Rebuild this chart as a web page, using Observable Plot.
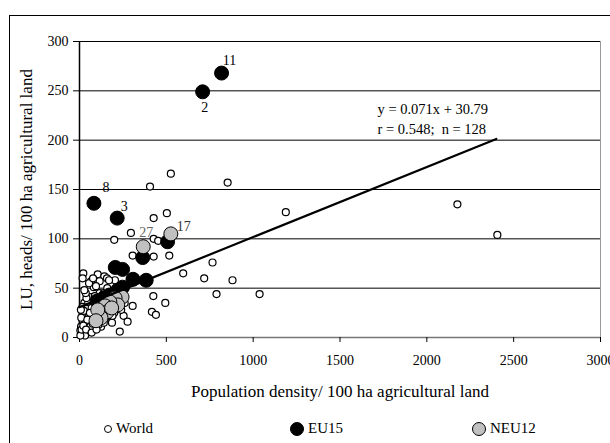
<!DOCTYPE html>
<html><head><meta charset="utf-8">
<script src="https://cdn.jsdelivr.net/npm/d3@7"></script>
<script src="https://cdn.jsdelivr.net/npm/@observablehq/plot@0.6"></script>
<style>
body{margin:0;background:#fff;width:610px;height:443px;overflow:hidden;position:relative;font-family:"Liberation Serif","Times New Roman",serif;}
#chart{position:absolute;left:0;top:0;}
#frame{position:absolute;left:9px;top:15px;width:700px;height:500px;border:1.5px solid #000;pointer-events:none;}
#legend{position:absolute;top:420px;left:0;width:610px;height:20px;font-size:15px;}
.li{position:absolute;top:0;display:flex;align-items:center;gap:4px;}
.sw{display:inline-block;border:1.2px solid #000;border-radius:50%;box-sizing:border-box;}
</style></head>
<body>
<div id="chart"></div>
<div id="legend"></div>
<div id="frame"></div>
<script>
// World countries (population density, LU per 100 ha)
const worldX = [406,526,853,2176,2406,1188,427,503,296,200,427,453,306,427,517,597,718,766,881,789,1037,425,494,306,417,440,254,277,232,187,
  22,18,66,105,143,158,204,116,82,95,124,66,116,181,28,18,43,18,56,18,32,9,5,16,32,5,62,85,76,124,50,95,70,40,10,25,60,100,120,140,160,180,200,150,12,45,36,88,130,110,55,78,170,230,210,8,28,140,165,190,260,240,22,38,70,98];
const worldY = [153,166,157,135,104,127,121,126,106,99,100,98,83,82,83,65,60,76,58,44,44,42,35,32,26,23,22,16,6,15,
  65,60,57,64,62,60,58,57,51,52,44,41,45,47,35,31,29,24,23,17,14,11,7,4,2,2,11,18,14,11,36,34,30,40,20,27,25,24,30,45,50,40,25,20,8,18,45,42,38,13,55,60,58,48,30,28,48,15,28,22,35,28,12,8,5,8];
// EU15
const eu15X = [83,217,709,818,507,364,206,248,308,384,248,220,171,139,101];
const eu15Y = [136,121,249,268,97,81,71,69,59,58,51,48,43,40,37];
const eu15Lab = ["8","3","2","11","","","","","","","","","","",""];
// NEU12
const neuX = [526,367,245,205,220,175,147,160,124,105,95,185];
const neuY = [105,92,41,40,33,36,32,26,20,28,17,30];
const neuLab = ["17","27","","","","","","","","","",""];
// Trend line y = 0.071x + 30.79
const slope = 0.071, intercept = 30.79, trendRange = [0, 2400];
const xTicks = [0,500,1000,1500,2000,2500,3000];
const yTicks = [0,50,100,150,200,250,300];
const xLabel = "Population density/ 100 ha agricultural land";
const yLabel = "LU, heads/ 100 ha agricultural land";
const eqText = ["y = 0.071x + 30.79", "r = 0.548;  n = 128"];
const seriesNames = ["World","EU15","NEU12"];

const world = worldX.map((x,i)=>({x, y: worldY[i]}));
const eu = eu15X.map((x,i)=>({x, y: eu15Y[i], lab: eu15Lab[i]}));
const neu = neuX.map((x,i)=>({x, y: neuY[i], lab: neuLab[i]}));
const trend = trendRange.map(x=>({x, y: slope*x + intercept}));

const labOff = {"8":[12,-16],"3":[7,-12],"2":[2,16],"11":[8,-13],"27":[3,-14],"17":[13,-7]};
const labCol = {"27":"#666","17":"#333"};

const font = "Liberation Serif";
const chart = Plot.plot({
  width: 610, height: 443,
  marginLeft: 79, marginRight: 10, marginTop: 41, marginBottom: 106,
  style: {fontFamily: font, fontSize: "14px", background: "transparent", color: "#000"},
  x: {domain: [0,3000], ticks: xTicks},
  y: {domain: [0,300], ticks: yTicks},
  marks: [
    Plot.gridY(yTicks.filter(d=>d>0), {stroke: "#000", strokeOpacity: 1, strokeWidth: 1}),
    Plot.ruleX([3000], {stroke: "#999", strokeWidth: 1}),
    Plot.ruleY([0], {stroke: "#777", strokeWidth: 1.5}),
    Plot.ruleX([0], {stroke: "#000", strokeWidth: 1.5}),
    Plot.axisX({ticks: xTicks, tickSize: 5, tickPadding: 13, tickFormat: d => String(d), label: null, fontSize: 14}),
    Plot.axisY({ticks: yTicks, tickSize: 6, tickPadding: 5, tickFormat: d => String(d), label: null, fontSize: 14}),
    Plot.dot(world, {x:"x", y:"y", r: 3.5, fill: "#fff", stroke: "#000", strokeWidth: 1.2}),
    Plot.dot(eu, {x:"x", y:"y", r: 7, fill: "#000", stroke: "#000", strokeWidth: 1}),
    Plot.dot(neu, {x:"x", y:"y", r: 7, fill: "#c0c0c0", stroke: "#000", strokeWidth: 1}),
    Plot.line(trend, {x:"x", y:"y", stroke: "#000", strokeWidth: 2.2}),
    ...eu.concat(neu).filter(d=>d.lab).map(d => Plot.text([d], {x:"x", y:"y", text:"lab", dx: labOff[d.lab][0], dy: labOff[d.lab][1], fontSize: 14, fill: labCol[d.lab] || "#000"})),
    Plot.text([eqText.join("\n")], {frameAnchor: "top-right", dx: -223, dy: 58, textAnchor: "start", lineHeight: 1.4, fontSize: 14.5}),
    Plot.text([xLabel], {frameAnchor: "bottom", dy: 59, textAnchor: "middle", fontSize: 17}),
    Plot.text([yLabel], {frameAnchor: "left", dx: -53, rotate: -90, textAnchor: "middle", fontSize: 17})
  ]
});
document.getElementById("chart").append(chart);

// Legend
const legend = document.getElementById("legend");
const legSpec = [
  {name: seriesNames[0], size: 8, fill: "#fff", left: 104},
  {name: seriesNames[1], size: 14, fill: "#000", left: 290},
  {name: seriesNames[2], size: 14, fill: "#c0c0c0", left: 472}
];
legSpec.forEach(s => {
  const el = document.createElement("div");
  el.className = "li";
  el.style.left = s.left + "px";
  const sw = document.createElement("span");
  sw.className = "sw";
  sw.style.width = s.size + "px"; sw.style.height = s.size + "px"; sw.style.background = s.fill;
  const t = document.createElement("span");
  t.textContent = s.name;
  el.append(sw, t);
  legend.append(el);
});
</script>
</body></html>
